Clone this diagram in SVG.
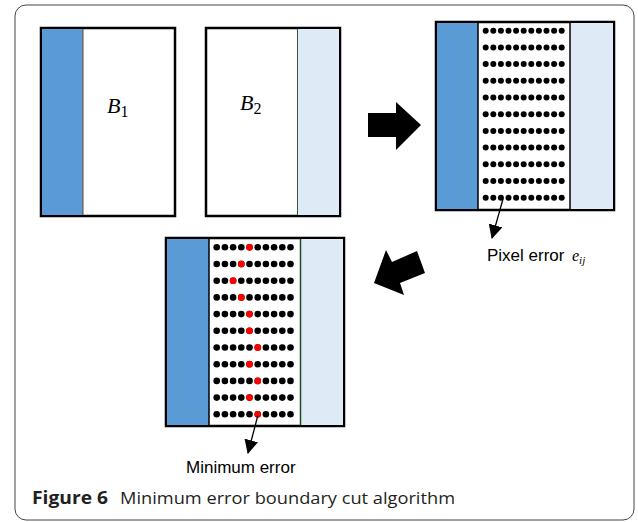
<svg xmlns="http://www.w3.org/2000/svg" width="638" height="522" viewBox="0 0 638 522">
<defs>
<style>
.box{fill:#fff;stroke:#000;stroke-width:2.5}
.blue{fill:#5b9bd5}
.lblue{fill:#deeaf6}
.div{stroke:#000;stroke-width:1.5}
.math{font-family:"Liberation Serif",serif;font-style:italic;fill:#000}
.lab{font-family:"Liberation Sans",Arial,sans-serif;font-size:17px;fill:#000}
.cap{font-family:"Open Sans",sans-serif;font-size:17px;fill:#231f20}
.dot{fill:#000}
.red{fill:#ff0000}
.con{stroke:#000;stroke-width:1.3;fill:none}
</style>
<marker id="ah2" viewBox="0 0 14 14" refX="13" refY="7" markerWidth="14" markerHeight="14" markerUnits="userSpaceOnUse" orient="auto">
<path d="M0,0 L14,7 L0,14 z" fill="#000"/>
</marker>
</defs>
<rect x="15" y="5" width="619" height="515" rx="11" fill="#fff" stroke="#444" stroke-width="1"/>

<g id="B1">
<rect x="41" y="28" width="134" height="188" class="box"/>
<rect x="42" y="29" width="41" height="186" class="blue"/>
<line x1="83" y1="29" x2="83" y2="215" stroke="#6a4526" stroke-width="1"/>
<text x="107" y="113" class="math" font-size="22">B<tspan font-size="16" font-style="normal" dy="4">1</tspan></text>
</g>

<g id="B2">
<rect x="206" y="28" width="134" height="188" class="box"/>
<rect x="298" y="29" width="41" height="186" class="lblue"/>
<line x1="297.5" y1="29" x2="297.5" y2="215" stroke="#2f5a3a" stroke-width="1"/>
<text x="240" y="110" class="math" font-size="22">B<tspan font-size="16" font-style="normal" dy="4">2</tspan></text>
</g>

<g id="arrowRight">
<polygon points="368,113 396,113 396,102 421,125 396,150 396,137 368,137" fill="#000"/>
</g>

<g id="overlap">
<rect x="436" y="22" width="178" height="188" class="box"/>
<rect x="437" y="23" width="41" height="186" class="blue"/>
<rect x="570" y="23" width="43" height="186" class="lblue"/>
<line x1="478" y1="23" x2="478" y2="209" class="div"/>
<line x1="570" y1="23" x2="570" y2="209" class="div"/>
<g id="dots1" class="dot">
<g id="row1">
<circle cx="485.7" cy="30.7" r="3"/><circle cx="493.3" cy="30.7" r="3"/><circle cx="500.9" cy="30.7" r="3"/><circle cx="508.5" cy="30.7" r="3"/><circle cx="516.1" cy="30.7" r="3"/><circle cx="523.7" cy="30.7" r="3"/><circle cx="531.3" cy="30.7" r="3"/><circle cx="538.9" cy="30.7" r="3"/><circle cx="546.5" cy="30.7" r="3"/><circle cx="554.1" cy="30.7" r="3"/><circle cx="561.7" cy="30.7" r="3"/>
</g>
<use href="#row1" y="16.7"/><use href="#row1" y="33.4"/><use href="#row1" y="50.1"/><use href="#row1" y="66.8"/><use href="#row1" y="83.5"/><use href="#row1" y="100.2"/><use href="#row1" y="116.9"/><use href="#row1" y="133.6"/><use href="#row1" y="150.3"/><use href="#row1" y="167"/>
</g>
<text x="487" y="261" class="lab">Pixel error</text>
<text x="572" y="261" class="math" font-size="16">e<tspan font-size="11" dy="3">ij</tspan></text>
</g>

<g id="arrowDiag">
<polygon points="374,283 386,250 392,262 417,251 425,273 400,283 404,295" fill="#000"/>
</g>

<g id="result">
<rect x="166" y="238" width="178" height="188" class="box"/>
<rect x="167" y="239" width="42" height="186" class="blue"/>
<rect x="301" y="239" width="42" height="186" class="lblue"/>
<line x1="209" y1="239" x2="209" y2="425" class="div"/>
<line x1="300.5" y1="239" x2="300.5" y2="425" stroke="#1f4a2a" stroke-width="1.5"/>
<g id="dots2" class="dot">
<g id="row2">
<circle cx="216.7" cy="247.3" r="3.3"/><circle cx="224.9" cy="247.3" r="3.3"/><circle cx="233.1" cy="247.3" r="3.3"/><circle cx="241.3" cy="247.3" r="3.3"/><circle cx="249.5" cy="247.3" r="3.3"/><circle cx="257.7" cy="247.3" r="3.3"/><circle cx="265.9" cy="247.3" r="3.3"/><circle cx="274.1" cy="247.3" r="3.3"/><circle cx="282.3" cy="247.3" r="3.3"/><circle cx="290.5" cy="247.3" r="3.3"/>
</g>
<use href="#row2" y="16.7"/><use href="#row2" y="33.4"/><use href="#row2" y="50.1"/><use href="#row2" y="66.8"/><use href="#row2" y="83.5"/><use href="#row2" y="100.2"/><use href="#row2" y="116.9"/><use href="#row2" y="133.6"/><use href="#row2" y="150.3"/><use href="#row2" y="167"/>
</g>
<g id="path" class="red">
<circle cx="249.5" cy="247.3" r="3.4"/>
<circle cx="241.3" cy="264" r="3.4"/>
<circle cx="233.1" cy="280.7" r="3.4"/>
<circle cx="241.3" cy="297.4" r="3.4"/>
<circle cx="249.5" cy="314.1" r="3.4"/>
<circle cx="249.5" cy="330.8" r="3.4"/>
<circle cx="257.7" cy="347.5" r="3.4"/>
<circle cx="249.5" cy="364.2" r="3.4"/>
<circle cx="257.7" cy="380.9" r="3.4"/>
<circle cx="249.5" cy="397.6" r="3.4"/>
<circle cx="257.7" cy="414.3" r="3.4"/>
</g>
<text x="186" y="473" class="lab">Minimum error</text>
</g>

<g id="connectors">
<line x1="503" y1="199" x2="492" y2="238" class="con" marker-end="url(#ah2)"/>
<line x1="257.7" y1="416" x2="248" y2="453" class="con" marker-end="url(#ah2)"/>
</g>

<text x="32" y="504" class="cap"><tspan font-weight="bold" textLength="76" lengthAdjust="spacingAndGlyphs">Figure 6</tspan><tspan x="120" textLength="335" lengthAdjust="spacingAndGlyphs">Minimum error boundary cut algorithm</tspan></text>
</svg>
